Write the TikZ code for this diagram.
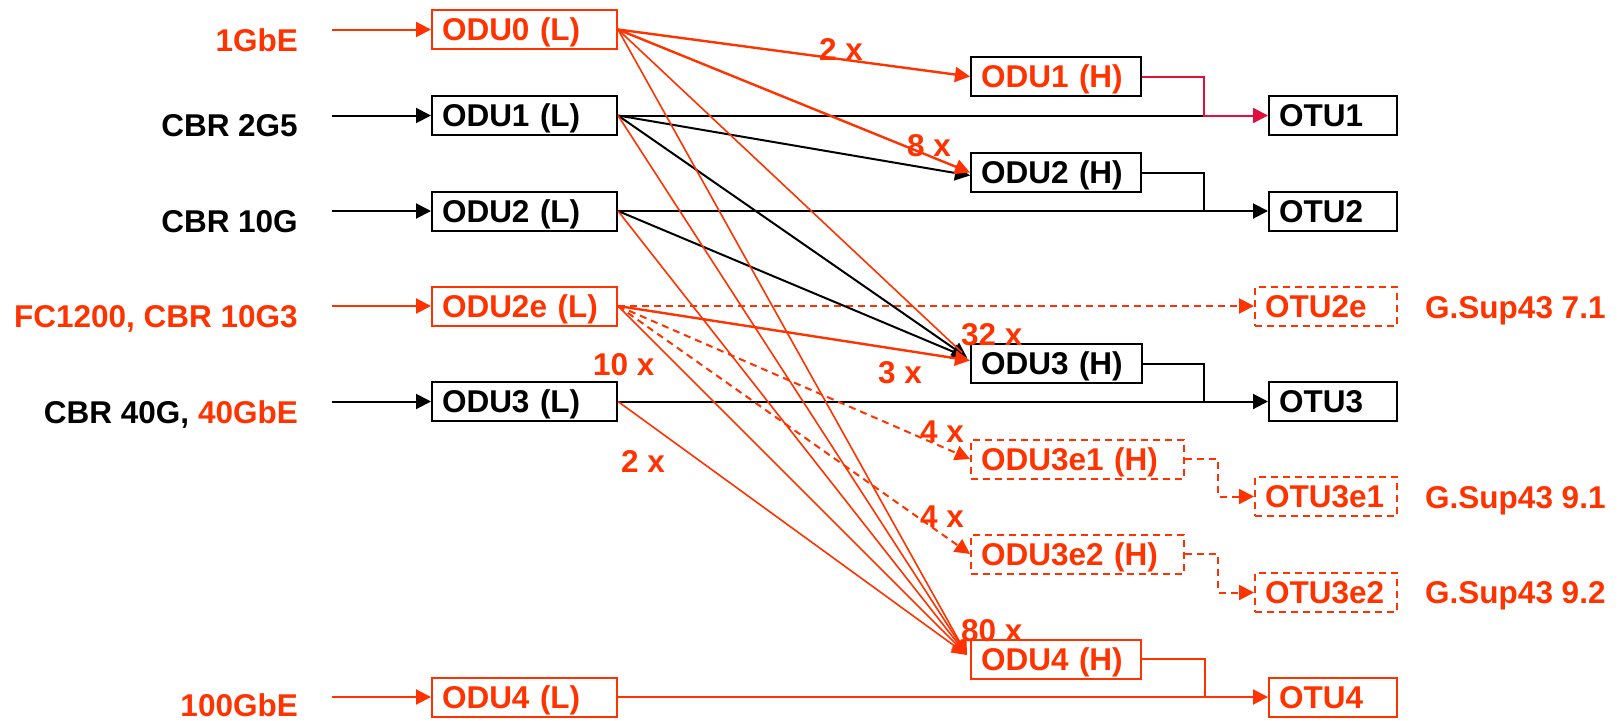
\documentclass[tikz,border=0pt]{standalone}
\usepackage{fontspec}
\setmainfont{Liberation Sans}
\usetikzlibrary{arrows.meta}
\definecolor{org}{RGB}{255,51,0}
\definecolor{crim}{RGB}{225,15,60}
\begin{document}
\begin{tikzpicture}[x=1pt,y=-1pt,
  every node/.style={font=\fontsize{31.5}{36}\selectfont\bfseries},
  box/.style={draw, line width=2pt, minimum height=39pt, inner xsep=10pt, inner ysep=0pt, anchor=west, align=left, text height=24pt, text depth=1.5pt},
  obox/.style={box, draw=org, text=org},
  dbox/.style={obox, dash pattern=on 7pt off 5pt},
  lw/.style={text width=165pt},
  hw/.style={text width=150pt},
  ew/.style={text width=193pt},
  tw/.style={text width=108pt},
  tew/.style={text width=122pt},
  lbl/.style={anchor=base east, inner sep=0pt},
  mul/.style={anchor=base west, inner sep=0pt, text=org},
  gsup/.style={anchor=base west, inner sep=0pt, text=org},
  arr/.style={-{Triangle[length=15pt,width=15pt]}},
  blk/.style={draw=black, line width=2pt},
  ol/.style={draw=org, line width=2pt},
  othin/.style={draw=org, line width=1.6pt},
  othick/.style={draw=org, line width=2.4pt},
  odash/.style={draw=org, line width=2pt, dash pattern=on 7pt off 5pt},
]
\useasboundingbox (0,0) rectangle (1619,720);

% left column
\node[obox,lw] (odu0l) at (431,29.5) {ODU0 (L)};
\node[box,lw] (odu1l) at (431,115.5) {ODU1 (L)};
\node[box,lw] (odu2l) at (431,211) {ODU2 (L)};
\node[obox,lw] (odu2el) at (431,306) {ODU2e (L)};
\node[box,lw] (odu3l) at (431,401.5) {ODU3 (L)};
\node[obox,lw] (odu4l) at (431,697) {ODU4 (L)};

% middle column
\node[box,hw,text=org] (odu1h) at (970,76.5) {ODU1 (H)};
\node[box,hw] (odu2h) at (970,172.5) {ODU2 (H)};
\node[box,text width=151pt] (odu3h) at (970,363.5) {ODU3 (H)};
\node[dbox,ew] (odu3e1h) at (970,459) {ODU3e1 (H)};
\node[dbox,ew] (odu3e2h) at (970,554) {ODU3e2 (H)};
\node[obox,hw] (odu4h) at (970,659) {ODU4 (H)};

% right column
\node[box,tw] (otu1) at (1268,115.5) {OTU1};
\node[box,tw] (otu2) at (1268,211) {OTU2};
\node[dbox,tew] (otu2e) at (1254,306) {OTU2e};
\node[box,tw] (otu3) at (1268,401.5) {OTU3};
\node[dbox,tew] (otu3e1) at (1254,496.5) {OTU3e1};
\node[dbox,tew] (otu3e2) at (1254,592.5) {OTU3e2};
\node[obox,tw] (otu4) at (1268,697) {OTU4};

% G.Sup43 labels
\node[gsup] (g71) at (1425,318) {G.Sup43 7.1};
\node[gsup] (g91) at (1425,508) {G.Sup43 9.1};
\node[gsup] (g92) at (1425,603) {G.Sup43 9.2};

% client labels
\node[lbl,text=org] (in0) at (298,51.5) {1GbE};
\node[lbl] (in1) at (298,136) {CBR 2G5};
\node[lbl] (in2) at (298,232) {CBR 10G};
\node[lbl,text=org] (in2e) at (298,327) {FC1200, CBR 10G3};
\node[lbl] (in3) at (298,423) {CBR 40G, \textcolor{org}{40GbE}};
\node[lbl,text=org] (in4) at (298,716) {100GbE};

% input arrow starts
\coordinate (s0) at (332,29.5);
\coordinate (s1) at (332,115.5);
\coordinate (s2) at (332,211);
\coordinate (s2e) at (332,306);
\coordinate (s3) at (332,401.5);
\coordinate (s4) at (332,697);
\draw[ol,arr] (s0) -- (odu0l.west);
\draw[blk,arr] (s1) -- (odu1l.west);
\draw[blk,arr] (s2) -- (odu2l.west);
\draw[ol,arr] (s2e) -- (odu2el.west);
\draw[blk,arr] (s3) -- (odu3l.west);
\draw[ol,arr] (s4) -- (odu4l.west);

% junctions
\coordinate (j1) at (1204,115.5);
\coordinate (j2) at (1204,211);
\coordinate (j3) at (1204,401.5);
\coordinate (j3e1) at (1218,496.5);
\coordinate (j3e2) at (1218,592.5);
\coordinate (j4) at (1205,697);

% horizontal / elbow connectors
\draw[blk] (odu1l.east) -- (j1);
\draw[draw=crim,line width=2pt,arr] (odu1h.east) -| (j1) -- (otu1.west);
\draw[blk,arr] (odu2l.east) -- (otu2.west);
\draw[blk] (odu2h.east) -| (j2);
\draw[odash,arr] (odu2el.east) -- (otu2e.west);
\draw[blk,arr] (odu3l.east) -- (otu3.west);
\draw[blk] (odu3h.east) -| (j3);
\draw[odash,arr] (odu3e1h.east) -| (j3e1) -- (otu3e1.west);
\draw[odash,arr] (odu3e2h.east) -| (j3e2) -- (otu3e2.west);
\draw[ol,arr] (odu4l.east) -- (otu4.west);
\draw[ol] (odu4h.east) -| (j4);

% diagonals
\draw[blk,arr] (odu1l.east) -- ([yshift=-3pt]odu2h.west);
\draw[othick,arr] (odu0l.east) -- (odu1h.west);
\draw[othick,arr] (odu0l.east) -- (odu2h.west);
\draw[blk,arr] (odu1l.east) -- ([xshift=-3pt,yshift=6pt]odu3h.west);
\draw[blk,arr] (odu2l.east) -- ([xshift=-3pt,yshift=6pt]odu3h.west);
\draw[othin] (odu0l.east) -- ([xshift=-8pt,yshift=11pt]odu3h.west);
\draw[othick,arr] (odu2el.east) -- ([yshift=3pt]odu3h.west);
\draw[odash,arr] (odu2el.east) -- (odu3e1h.west);
\draw[odash,arr] (odu2el.east) -- (odu3e2h.west);
\foreach \s in {odu0l,odu1l,odu2l,odu2el,odu3l}
  \draw[othin,arr] (\s.east) -- ([xshift=-3pt,yshift=4pt]odu4h.west);

% multiplicity labels
\node[mul] (m1) at (819,60) {2 x};
\node[mul] (m2) at (907,156) {8 x};
\node[mul] (m3) at (961,345) {32 x};
\node[mul] (m4) at (878,383) {3 x};
\node[mul] (m5) at (593,375) {10 x};
\node[mul] (m6) at (621,472) {2 x};
\node[mul] (m7) at (920,442) {4 x};
\node[mul] (m8) at (920,527) {4 x};
\node[mul] (m9) at (961,641) {80 x};
\end{tikzpicture}
\end{document}
